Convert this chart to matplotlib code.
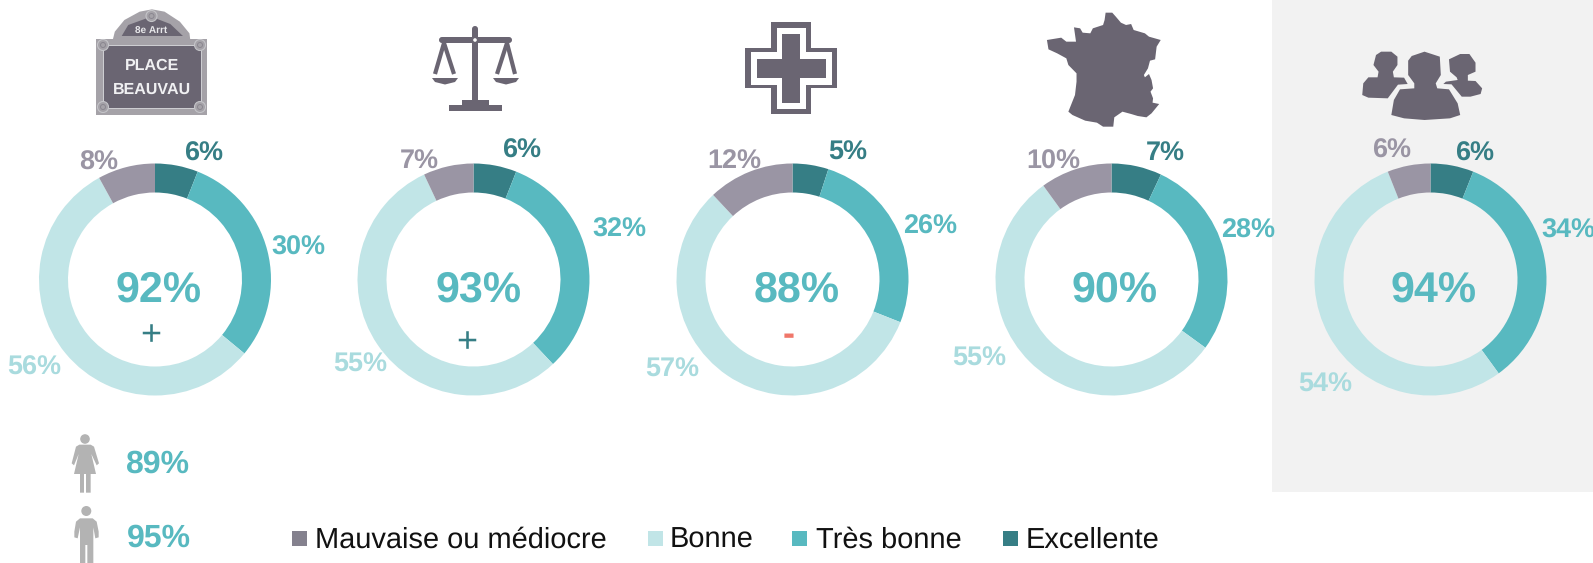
import matplotlib
matplotlib.use("Agg")
import matplotlib.pyplot as plt
from matplotlib.patches import Rectangle, Polygon, Circle, FancyBboxPatch

plt.rcParams['font.family'] = ['Liberation Sans', 'DejaVu Sans']
plt.rcParams['text.hinting'] = 'no_hinting'
plt.rcParams['text.hinting_factor'] = 1

W, H = 1593, 563
# --- data ---
series_names = ["Mauvaise ou médiocre", "Bonne", "Très bonne", "Excellente"]
excellente = [6, 6, 5, 7, 6]
tres_bonne = [30, 32, 26, 28, 34]
bonne = [56, 55, 57, 55, 54]
mauvaise = [8, 7, 12, 10, 6]
totals = ["92%", "93%", "88%", "90%", "94%"]
signs = ["+", "+", "-", "", ""]
gender_labels = ["89%", "95%"]

# --- style ---
C_EXC, C_TB, C_B, C_M = "#367e85", "#58b9c0", "#c1e5e7", "#9a95a4"
C_LEG_M = "#84818e"
C_LBL_B = "#a9dbde"
C_ICON = "#6a6572"
C_GREY = "#b3b3b3"
centers_x = [155, 473.5, 792.5, 1111.5, 1430.5]
center_y = 279.5
R = 116.0
WIDTH = 29.0 / 116.0

# pixel positions of labels (excellente, tres bonne, bonne, mauvaise)
lbl_pos = [
    [(204, 154), (298, 248), (34, 368), (99, 163)],
    [(522, 151), (619, 230), (360, 365), (419, 162)],
    [(848, 153), (930, 227), (672, 370), (734, 162)],
    [(1165, 154), (1248, 231), (979, 359), (1053, 162)],
    [(1475, 154), (1568, 231), (1325, 385), (1392, 151)],
]
total_pos = [(158.5, 290), (479, 290), (797, 290), (1115, 290), (1434, 290)]
sign_pos = [(151, 336), (467, 343), (789, 336)]

fig = plt.figure(figsize=(W / 100, H / 100), dpi=100, facecolor="white")
fig.add_artist(Rectangle((1272 / W, 1 - 492 / H), 321 / W, 492 / H,
                         transform=fig.transFigure, fc="#f2f2f2", ec="none", zorder=-5))

for i, cx in enumerate(centers_x):
    ax = fig.add_axes([(cx - R - 1) / W, 1 - (center_y + R + 1) / H, (2 * R + 2) / W, (2 * R + 2) / H])
    ax.patch.set_alpha(0)
    ax.pie([excellente[i], tres_bonne[i], bonne[i], mauvaise[i]],
           colors=[C_EXC, C_TB, C_B, C_M], startangle=90, counterclock=False,
           radius=R / (R + 1), wedgeprops=dict(width=WIDTH * R / (R + 1), edgecolor="none"))
    ax.set_xlim(-1, 1)
    ax.set_ylim(-1, 1)
    ax.set_aspect("equal")
    ax.axis("off")

ov = fig.add_axes([0, 0, 1, 1], zorder=10)
ov.set_xlim(0, W)
ov.set_ylim(H, 0)
ov.axis("off")
ov.patch.set_alpha(0)

# value labels
lbl_cols = [C_EXC, C_TB, C_LBL_B, C_M]
for i in range(5):
    vals = [excellente[i], tres_bonne[i], bonne[i], mauvaise[i]]
    for v, (x, y), c in zip(vals, lbl_pos[i], lbl_cols):
        ov.text(x, y, f"{v}%", color=c, fontsize=19.2, fontweight="bold", ha="center", va="center")
    ov.text(*total_pos[i], totals[i], color=C_TB, fontsize=31, fontweight="bold", ha="center", va="center")
for s, (x, y) in zip(signs, sign_pos):
    ov.text(x, y, s, color=C_EXC if s == "+" else "#f0776a", fontsize=26,
            fontweight="normal" if s == "+" else "bold", ha="center", va="center")

# legend
leg_sq = [292, 648, 792, 1003]
leg_tx = [315, 670, 816, 1026]
for name, sq, tx, c in zip(series_names, leg_sq, leg_tx, [C_LEG_M, C_B, C_TB, C_EXC]):
    ov.add_patch(Rectangle((sq, 531), 15, 15, fc=c, ec="none"))
    ov.text(tx, 540, name, color="#111111", fontsize=21, ha="left", va="center")

# gender figures
for lab, y in zip(gender_labels, [464, 538]):
    ov.text(158.5, y, lab, color=C_TB, fontsize=23, fontweight="bold", ha="center", va="center")

def gz(pts):
    return [(x / 3, 410 + y / 3) for x, y in pts]

ov.add_patch(Circle((85, 439), 4.8, fc=C_GREY, ec="none"))
ov.add_patch(Polygon(gz([(238, 104), (272, 104), (282, 110), (297, 160), (290, 166), (274, 132), (288, 192),
                         (272, 192), (272, 248), (258, 248), (258, 192), (252, 192), (252, 248), (240, 248),
                         (240, 192), (222, 192), (236, 132), (222, 166), (215, 160), (228, 110)]),
                     fc=C_GREY, ec="none"))
ov.add_patch(Circle((86.3, 511), 5, fc=C_GREY, ec="none"))
ov.add_patch(Polygon(gz([(240, 325), (278, 325), (290, 335), (296, 365), (296, 382), (286, 385), (280, 352),
                         (280, 459), (262, 459), (262, 405), (256, 405), (256, 459), (240, 459), (240, 352),
                         (233, 385), (223, 382), (223, 365), (228, 335)]),
                     fc=C_GREY, ec="none"))

# plaque
def z1(pts):
    return [(x / 2.613, y / 3) for x, y in pts]

PL = "#a5a2a8"
ov.add_patch(Rectangle((96, 39), 111, 76, fc=PL, ec="none"))
ov.add_patch(Polygon(z1([(295, 118), (300, 95), (325, 60), (365, 35), (397, 28), (430, 35), (470, 65),
                         (495, 100), (497, 118)]), fc=PL, ec="none"))
ov.add_patch(Polygon(z1([(318, 108), (335, 75), (395, 50), (445, 72), (478, 108)]), fc=C_ICON, ec="none"))
ov.add_patch(Rectangle((103, 45), 98, 63, fc=C_ICON, ec="#d0d0d4", lw=0.7))
for (x, y) in [(103, 45), (200, 45), (103, 107), (200, 107), (151.5, 16)]:
    ov.add_patch(Circle((x, y), 5.5, fc=PL, ec="#c4c4c8", lw=0.8))
    ov.add_patch(Circle((x, y), 2.5, fc=PL, ec="#8a8790", lw=0.7))
ov.text(151, 31, "8e Arrt", color="#e8e8ea", fontsize=7, fontweight="bold", ha="center", va="center")
ov.text(152, 66, "PLACE", color="#f0f0f2", fontsize=11.5, fontweight="bold", ha="center", va="center")
ov.text(152, 90, "BEAUVAU", color="#f0f0f2", fontsize=11.5, fontweight="bold", ha="center", va="center")

# scales
ov.add_patch(FancyBboxPatch((472, 26), 6, 80, boxstyle="round,pad=0,rounding_size=3", fc=C_ICON, ec="none"))
ov.add_patch(FancyBboxPatch((439, 37), 73, 6, boxstyle="round,pad=0,rounding_size=3", fc=C_ICON, ec="none"))
ov.add_patch(Circle((475, 40), 1.8, fc="white", ec="none"))
ov.add_patch(Rectangle((449, 105), 53, 6, fc=C_ICON, ec="none"))
ov.add_patch(Rectangle((462, 100), 27, 5, fc=C_ICON, ec="none"))
for apex, l, r, pl, pr in [(444, 435, 454, 432, 458), (507, 497, 515, 493, 519)]:
    ov.plot([apex, l], [43, 74], color=C_ICON, lw=3, solid_capstyle="butt")
    ov.plot([apex, r], [43, 74], color=C_ICON, lw=3, solid_capstyle="butt")
    ov.add_patch(Polygon([(pl, 78), (pr, 78), (pr - 3, 82), ((pl + pr) / 2, 84.5), (pl + 3, 82)], fc=C_ICON, ec="none"))

# medical cross
def cross(cx, cy, a, b, c):
    return [(cx - b, cy - a), (cx + b, cy - a), (cx + b, cy - c), (cx + a, cy - c), (cx + a, cy + c), (cx + b, cy + c),
            (cx + b, cy + a), (cx - b, cy + a), (cx - b, cy + c), (cx - a, cy + c), (cx - a, cy - c), (cx - b, cy - c)]

ov.add_patch(Polygon(cross(791, 68, 46, 20, 20), fc=C_ICON, ec="none"))
ov.add_patch(Polygon(cross(791, 68, 40.5, 14.5, 16.5), fc="white", ec="none"))
ov.add_patch(Polygon(cross(791, 68, 34.5, 9, 9.5), fc=C_ICON, ec="none"))

# France and people
def z2(pts):
    return [(700 + x / 1.96, y / 3) for x, y in pts]

france = [(795, 38), (808, 38), (815, 50), (825, 68), (835, 75), (845, 72), (850, 90), (872, 100), (880, 110),
          (903, 120), (895, 140), (892, 178), (882, 182), (878, 205), (870, 225), (872, 232), (880, 222), (885, 240),
          (888, 265), (883, 275), (888, 295), (887, 308), (900, 312), (885, 340), (875, 352), (858, 348), (845, 342),
          (828, 335), (812, 352), (810, 380), (790, 380), (778, 368), (755, 362), (730, 345), (722, 335), (735, 285),
          (738, 245), (738, 220), (722, 195), (718, 175), (700, 160), (683, 148), (680, 120), (708, 113), (718, 125),
          (737, 125), (733, 82), (745, 85), (750, 98), (765, 100), (770, 85), (790, 75), (793, 60)]
ov.add_patch(Polygon(z2(france), fc=C_ICON, ec="none"))
p_mid = [(1420, 155), (1450, 170), (1452, 225), (1442, 250), (1445, 265), (1468, 268), (1485, 310), (1490, 345),
         (1470, 355), (1420, 360), (1380, 355), (1355, 345), (1360, 300), (1372, 268), (1400, 265), (1400, 250),
         (1388, 225), (1388, 182), (1395, 168)]
p_left = [(1325, 165), (1335, 155), (1355, 155), (1367, 170), (1367, 195), (1358, 215), (1360, 232), (1380, 233),
          (1387, 252), (1368, 254), (1348, 295), (1310, 293), (1298, 285), (1300, 250), (1310, 232), (1328, 232),
          (1330, 215), (1320, 195)]
p_right = [(1468, 178), (1490, 162), (1508, 162), (1520, 188), (1520, 215), (1505, 225), (1505, 242), (1520, 243),
           (1533, 265), (1530, 282), (1510, 290), (1493, 290), (1473, 253), (1457, 252), (1462, 245), (1485, 240),
           (1483, 232), (1470, 215)]
for p in (p_mid, p_left, p_right):
    ov.add_patch(Polygon(z2(p), fc=C_ICON, ec="none"))

fig.savefig("out.png", dpi=100)
